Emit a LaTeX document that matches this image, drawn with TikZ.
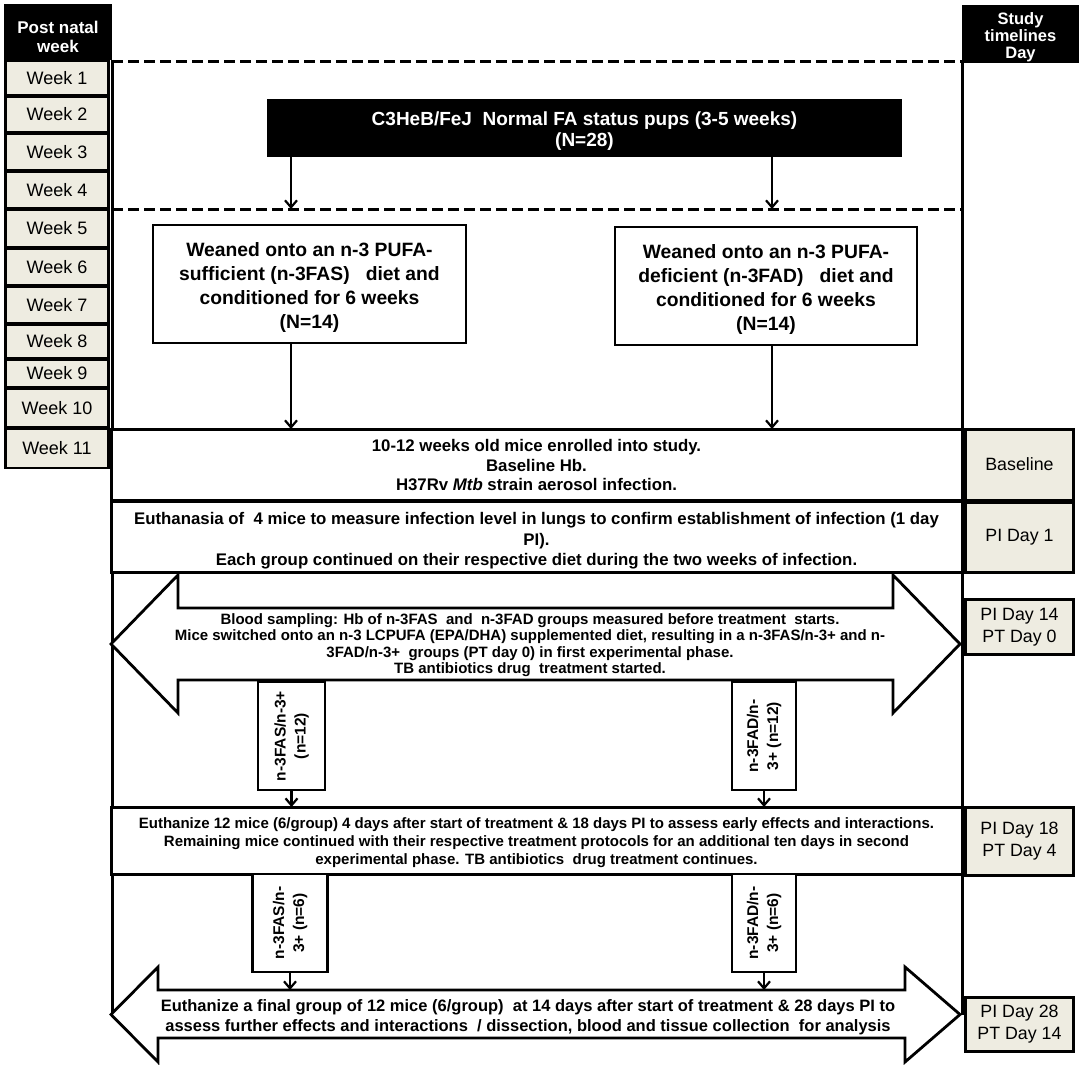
\documentclass[tikz,border=0pt]{standalone}
\usepackage{fontspec}
\setmainfont{Liberation Sans}
\usetikzlibrary{arrows.meta,calc}
\definecolor{cream}{HTML}{EEECE1}
\begin{document}
\begin{tikzpicture}[x=1pt,y=-1pt,
  every node/.style={inner sep=0pt, outer sep=0pt},
  hdr/.style={fill=black, text=white, align=center},
  hdrtext/.style={text=white, align=center, font=\bfseries\fontsize{17}{19.5}\selectfont},
  weekbox/.style={draw=black, line width=2.8pt, fill=cream, minimum width=103pt, font=\fontsize{18}{21}\selectfont},
  daybox/.style={draw=black, line width=3pt, fill=cream, minimum width=108pt, align=center, font=\fontsize{17.8}{21.5}\selectfont},
  rowbox/.style={draw=black, line width=3pt, fill=white, minimum width=851pt, align=center},
  rowtext/.style={align=center, font=\bfseries\fontsize{16.8}{20.5}\selectfont},
  dietbox/.style={draw=black, line width=2.8pt, fill=white, align=center},
  diettext/.style={align=center, font=\bfseries\fontsize{19.3}{24}\selectfont},
  grpbox/.style={draw=black, line width=2.8pt, fill=white, align=center, font=\bfseries\fontsize{15.5}{20}\selectfont},
  arr/.style={line width=2.2pt, -{Straight Barb[length=7pt,width=12pt,line width=2.2pt]}},
  dashline/.style={line width=3pt, dash pattern=on 11pt off 5pt},
  vline/.style={line width=3pt},
  bigarrow/.style={draw=black, line width=2.8pt, fill=white, line join=miter},
]
\useasboundingbox (0,0) rectangle (1084,1065);

% headers
\node[hdr, minimum width=108, minimum height=56] (hl) at (58,32) {};
\node[hdrtext] (hlt) at ($(hl.center)+(0,5)$) {Post natal\\week};
\node[hdr, minimum width=117, minimum height=58] (hr) at (1020.5,34) {};
\node[hdrtext, font=\bfseries\fontsize{16.5}{17}\selectfont] (hrt) at ($(hr.center)+(0,3)$) {Study\\timelines\\Day};

% week column
\foreach \n/\y/\h in {1/78/34, 2/114.5/35, 3/152/36, 4/190/36, 5/228.5/37, 6/267/36, 7/305/36, 8/341.5/33, 9/373.5/27, 10/408/38, 11/448.5/39}
  \node[weekbox, minimum height=\h] (w\n) at (57,\y) {Week \n};

% coordinates
\coordinate (tipA) at (111,644);
\coordinate (tipAR) at (960,644);
\coordinate (tipB) at (111,1014.5);
\coordinate (tipBR) at (960,1014.5);
\coordinate (d1L) at (112,62);
\coordinate (d1R) at (962,62);
\coordinate (d2L) at (112,209);
\coordinate (d2R) at (962,209);
\coordinate (xL) at (291,0);
\coordinate (xR) at (772,0);
\coordinate (bTop) at (0,990);

% timeline verticals
\draw[vline] (hl.south east) -- (hl.south east |- tipB);
\draw[vline] (hr.south west) -- (hr.south west |- tipBR);

% dashed separators
\draw[dashline] (d1L) -- (d1R);
\draw[dashline] (d2L) -- (d2R);

% pups
\node[fill=black, minimum width=635, minimum height=58] (pups) at (584.5,128) {};
\node[align=center, text=white, font=\bfseries\fontsize{19}{20.5}\selectfont] (pupst) at ($(pups.center)+(0,3)$)
  {C3HeB/FeJ\ \ Normal FA status pups (3-5 weeks)\\(N=28)};
\draw[arr] (pups.south -| xL) -- (d2L -| xL);
\draw[arr] (pups.south -| xR) -- (d2L -| xR);

% diet boxes
\node[dietbox, minimum width=313, minimum height=118] (fas) at (309.5,284) {};
\node[diettext] (fast) at ($(fas.center)+(0,3.5)$)
  {Weaned onto an n-3 PUFA-\\sufficient (n-3FAS)\ \ \ diet and\\conditioned for 6 weeks\\(N=14)};
\node[dietbox, minimum width=302, minimum height=118] (fad) at (766,286) {};
\node[diettext] (fadt) at ($(fad.center)+(0,3.5)$)
  {Weaned onto an n-3 PUFA-\\deficient (n-3FAD)\ \ \ diet and\\conditioned for 6 weeks\\(N=14)};

% baseline row
\node[rowbox, minimum height=71] (base) at (536.5,464.5) {};
\node[rowtext, font=\bfseries\fontsize{16.8}{19.5}\selectfont] (baset) at ($(base.center)+(0,1)$)
  {10-12 weeks old mice enrolled into study.\\Baseline Hb.\\H37Rv \textit{Mtb} strain aerosol infection.};
\draw[arr] (fas.south -| xL) -- (base.north -| xL);
\draw[arr] (fad.south -| xR) -- (base.north -| xR);

% PI day 1 row
\node[rowbox, minimum height=71] (pi1) at (536.5,536.5) {};
\node[rowtext] (pi1t) at ($(pi1.center)+(0,4.5)$)
  {Euthanasia of\ \ 4 mice to measure infection level in lungs to confirm establishment of infection (1 day\\PI).\\Each group continued on their respective diet during the two weeks of infection.};

% big double arrow A
\draw[bigarrow] (tipA) -- (178,575) -- (178,608) -- (893,608) -- (893,575) -- (tipAR)
  -- (893,713) -- (893,680) -- (178,680) -- (178,713) -- cycle;
\node[align=center, font=\bfseries\fontsize{15}{16.5}\selectfont] (armA) at (530,645)
  {Blood sampling: Hb of n-3FAS\ \ and\ \ n-3FAD groups measured before treatment\ \ starts.\\
   Mice switched onto an n-3 LCPUFA (EPA/DHA) supplemented diet, resulting in a n-3FAS/n-3+ and n-\\
   3FAD/n-3+\ \ groups (PT day 0) in first experimental phase.\\
   TB antibiotics drug\ \ treatment started.};

% group boxes n=12
\node[grpbox, rotate=90, minimum width=108, minimum height=67] (g1) at (291.5,736) {n-3FAS/n-3+\\(n=12)};
\node[grpbox, rotate=90, minimum width=108, minimum height=64] (g2) at (764,736) {n-3FAD/n-\\3+ (n=12)};

% PI day 18 row
\node[rowbox, minimum height=67] (r18) at (536.5,840.5) {};
\node[rowtext, font=\bfseries\fontsize{15}{18}\selectfont] (r18t) at ($(r18.center)+(0,2.5)$)
  {Euthanize 12 mice (6/group) 4 days after start of treatment \& 18 days PI to assess early effects and interactions.\\
   Remaining mice continued with their respective treatment protocols for an additional ten days in second\\
   experimental phase. TB antibiotics\ \ drug treatment continues.};
\draw[arr] (g1.west) -- (r18.north -| g1.west);
\draw[arr] (g2.west) -- (r18.north -| g2.west);

% group boxes n=6
\node[grpbox, rotate=90, minimum width=98, minimum height=75] (g3) at (290,923) {n-3FAS/n-\\3+ (n=6)};
\node[grpbox, rotate=90, minimum width=98, minimum height=64] (g4) at (764,923) {n-3FAD/n-\\3+ (n=6)};

% big double arrow B
\draw[bigarrow] (tipB) -- (158,967) -- (158,990) -- (905,990) -- (905,967) -- (tipBR)
  -- (905,1062) -- (905,1038) -- (158,1038) -- (158,1062) -- cycle;
\node[align=center, font=\bfseries\fontsize{16.5}{20}\selectfont] (armB) at (528,1017)
  {Euthanize a final group of 12 mice (6/group)\ \ at 14 days after start of treatment \& 28 days PI to\\
   assess further effects and interactions\ \ / dissection, blood and tissue collection\ \ for analysis};
\draw[arr] (g3.west) -- (bTop -| g3.west);
\draw[arr] (g4.west) -- (bTop -| g4.west);

% day column
\node[daybox, minimum height=71] (dBase) at (1019.5,464.5) {Baseline};
\node[daybox, minimum height=70] (d1) at (1019.5,537) {PI Day 1};
\node[daybox, minimum height=55] (d14) at (1019.5,627) {PI Day 14\\PT Day 0};
\node[daybox, minimum height=68] (d18) at (1019.5,841) {PI Day 18\\PT Day 4};
\node[daybox, minimum height=54] (d28) at (1019.5,1024) {PI Day 28\\PT Day 14};
\end{tikzpicture}
\end{document}
